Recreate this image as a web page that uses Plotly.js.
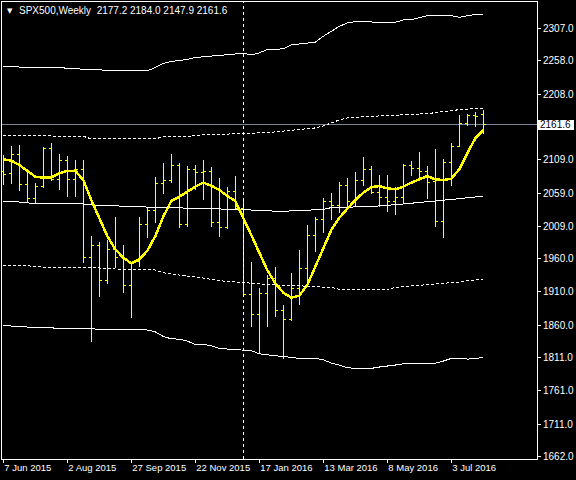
<!DOCTYPE html>
<html>
<head>
<meta charset="utf-8">
<script src="https://cdn.plot.ly/plotly-3.0.1.min.js"></script>
<style>
html,body{margin:0;padding:0;background:#000;}
#chart{width:576px;height:480px;}
#chart svg path{shape-rendering:crispEdges;}
</style>
</head>
<body>
<div id="chart"></div>
<script>
// ---- data (weekly bars starting 7 Jun 2015) ----
const symbolName = 'SPX500,Weekly';
const firstWeek = '2015-06-07';
const openP  = [2092,2088,2117.3,2071.1,2051,2068.5,2126.3,2079.6,2108.7,2079.6,2094.7,1962.2,1980,1928,1974,1962,1920.5,1955.6,2011.9,2033.4,2073.6,2077.5,2099.7,2012,2095,2090,2092,2014.4,2007.4,2062,2036,1906,1876.8,1908,1930,1881.8,1868,1916,1945,1995.8,2019.4,2046,2040,2071,2046,2078,2094,2060,2052,2046,2053,2100,2096,2092,2077,2016,2104.7,2129.8,2164,2176,2177.2];
const highP  = [2116.2,2130.3,2131.3,2088.7,2073.6,2127.8,2133.9,2117.7,2114.7,2108.7,2108.7,1994.3,1986,1988,2022.4,1980.7,1953.2,2022.4,2036,2083.6,2103.7,2117.7,2104.7,2099,2101.2,2108.7,2098.6,2081,2068.5,2084.6,2049.5,1955.6,1915.5,1935.6,1948,1890.4,1938.1,1973.2,2010.9,2023.4,2051,2058.6,2076,2081,2091,2113.7,2099,2086,2086,2068,2103,2107.7,2121.2,2099,2125,2109.8,2133.9,2176.5,2178,2181.4,2184.0];
const lowP   = [2071.1,2072.6,2062.5,2044.5,2044.5,2067,2077.5,2063.5,2053.5,2053.5,1953.2,1834,1902,1922,1945.6,1908,1870.4,1948,1990.8,2014.4,2057.5,2073.6,2006,2008,2063.5,2048.5,2008.3,1993.3,2004.4,2033.4,1905,1857.7,1818.6,1857.7,1872.8,1808.6,1866,1890.4,1923,1970.7,1998.4,2018.4,2028.5,2036,2038.5,2070,2058,2038.4,2030,2025.7,2043,2084.6,2080,2049.5,2008.3,1990.8,2070,2128.7,2159.5,2158.8,2147.9];
const closeP = [2087.6,2117.3,2071.1,2051,2068.5,2126.3,2079.6,2108.7,2079.6,2094.7,1962.2,1980,1928,1974,1962,1920.5,1953,2011.9,2033.4,2073.6,2077.5,2099.7,2012,2095,2090,2092,2014.4,2007.4,2062,2036,1906,1876.8,1908,1930,1881.8,1868,1916,1945,1995.8,2019.4,2046,2040,2071,2046,2078,2094,2060,2052,2046,2053,2100,2096,2092,2075,2016,2104.7,2128.7,2163,2176,2174,2161.6];

const maLine = [2109.8,2107.7,2101.2,2092.6,2083.6,2082,2082.5,2088.7,2092.2,2092.6,2078.6,2048.5,2022.4,1994.3,1974.3,1961.6,1953.2,1959,1972,1994,2023.4,2047,2053.5,2061,2068.5,2074.6,2070,2063.5,2054.5,2047,2022,1995.8,1969.2,1943,1923,1909,1901.4,1904.4,1920.5,1948,1977.3,2003.3,2021.8,2036,2048.5,2059.5,2067.6,2069.6,2066,2064.6,2068.5,2074.6,2079.6,2084.6,2079.6,2078.6,2080.6,2094.7,2118.8,2141.4,2153.9];

const midBand = [2045.5,2045.5,2045.5,2044,2044,2044,2044,2043.5,2043,2042.5,2042.5,2041,2040.5,2040,2039.5,2039,2038.4,2038,2037,2037,2037,2037,2036.5,2035.5,2035.5,2035.5,2035,2035,2034.5,2033.5,2033.4,2033.4,2033.4,2033.4,2031,2031,2032.4,2032.4,2032.4,2034.5,2034.5,2037,2037,2037,2038.4,2038.4,2038.4,2039.5,2040,2042,2042.5,2043.5,2045,2046,2047.5,2048.5,2049.5,2050.5,2052,2053,2054];

const upperInner = [2145.5,2145.5,2145.5,2145.5,2145.5,2145.5,2145.5,2144.4,2144.4,2144.4,2144.4,2140.5,2140.5,2140.5,2140.5,2140.5,2140.5,2140.5,2140.5,2140.5,2143.8,2143.8,2143.8,2143.8,2146,2146.4,2147,2147.5,2148,2148.2,2148.5,2148.9,2149,2150,2151,2152,2153,2154,2155,2157,2160,2165,2169,2172,2173.5,2174,2174.5,2175,2175,2175.5,2176.5,2177,2178,2178.5,2180,2182,2183,2184.5,2185.5,2186,2187];

const lowerInner = [1950,1949.6,1949.6,1949.6,1948,1948,1947,1946.6,1946.6,1946.6,1946.6,1946.6,1946.6,1946,1944.6,1944.6,1944.6,1944,1944,1943,1939,1937,1935,1934,1933,1930.6,1929,1927,1926,1925,1924.5,1924,1923,1921,1920.5,1920.5,1920.5,1920,1918,1918,1918,1917,1914,1913,1913,1913,1913,1913.5,1914,1917,1918,1918.5,1919,1920.5,1921,1922,1924,1925,1927,1928.5,1929.5];

const upperOuter = [2249,2249,2249,2249,2249,2249,2249,2248,2246.8,2246.8,2245,2244.7,2244.7,2243.2,2243.2,2243,2242.7,2242.7,2243,2248,2254,2257,2258.5,2260,2263,2264,2265,2266,2267,2268,2269.4,2267,2270,2275,2275.4,2276,2282,2283,2285,2286,2295,2303,2310,2315,2317,2317,2317,2316,2315.5,2316,2319.5,2320,2323,2326,2326,2326,2326,2323.5,2326,2328,2328];

const lowerOuter = [1858.8,1858.8,1857.3,1857.3,1856,1857,1856,1855,1854.3,1854.3,1854.3,1855,1853.5,1853.5,1853,1852.8,1852.8,1852.8,1852.8,1850,1843,1839.5,1839,1836,1831,1831,1829,1825,1824,1823.5,1823,1821.6,1817,1815,1814,1813,1811,1810,1810,1810,1808,1803,1800,1796,1795,1795,1795,1797,1798,1800,1802,1802.6,1802.6,1802.6,1802.6,1806,1810,1810,1809,1809.5,1811.7];

const xTickLabels = ['7 Jun 2015','2 Aug 2015','27 Sep 2015','22 Nov 2015','17 Jan 2016','13 Mar 2016','8 May 2016','3 Jul 2016'];
const yTickValues = [2307,2258,2208,2109,2059,2009,1960,1910,1860,1811,1761,1711,1662];

// ---- derived ----
const idx = openP.map((_, i) => i);
const start = new Date(firstWeek + 'T00:00:00Z');
const dates = idx.map(i => new Date(start.getTime() + i * 7 * 86400000));
const sepIndex = dates.findIndex(d => d.getUTCFullYear() === 2016);
const barsPerLabel = 8;
const xTickVals = xTickLabels.map((_, k) => k * barsPerLabel);
const n = openP.length - 1;
const lastClose = closeP[n];
const headerText = symbolName + '  ' + [openP[n], highP[n], lowP[n], closeP[n]].map(v => v.toFixed(1)).join(' ');

const YEL = '#ffff00';
const WH = '#ffffff';
const FONT = 'Liberation Sans, Arial, sans-serif';

const traces = [
  {type:'ohlc', x:idx, open:openP, high:highP, low:lowP, close:closeP,
   increasing:{line:{color:YEL, width:1}}, decreasing:{line:{color:YEL, width:1}},
   tickwidth:0.3, hoverinfo:'skip', showlegend:false},
  {type:'scatter', mode:'lines', x:idx, y:upperOuter, line:{color:WH, width:1}, hoverinfo:'skip'},
  {type:'scatter', mode:'lines', x:idx, y:upperInner, line:{color:WH, width:1, dash:'3px,2px'}, hoverinfo:'skip'},
  {type:'scatter', mode:'lines', x:idx, y:midBand, line:{color:WH, width:1}, hoverinfo:'skip'},
  {type:'scatter', mode:'lines', x:idx, y:lowerInner, line:{color:WH, width:1, dash:'3px,2px'}, hoverinfo:'skip'},
  {type:'scatter', mode:'lines', x:idx, y:lowerOuter, line:{color:WH, width:1}, hoverinfo:'skip'},
  {type:'scatter', mode:'lines', x:idx, y:maLine, line:{color:YEL, width:2.5}, hoverinfo:'skip'}
];

const boxHalf = 7.0;
const layout = {
  width:576, height:480,
  paper_bgcolor:'#000000', plot_bgcolor:'#000000',
  margin:{l:2, r:39, t:2, b:21, pad:0},
  showlegend:false, hovermode:false,
  font:{family:FONT, size:10, color:WH},
  xaxis:{
    range:[-0.1625, 66.7125], autorange:false, fixedrange:true,
    rangeslider:{visible:false},
    showgrid:false, zeroline:false,
    showline:true, mirror:true, linecolor:WH, linewidth:1,
    ticks:'outside', ticklen:3, tickcolor:WH, tickwidth:1,
    tickmode:'array', tickvals:xTickVals, ticktext:xTickLabels,
    ticklabelposition:'outside right', tickangle:0,
    tickfont:{family:FONT, size:9.5, color:WH}, automargin:false
  },
  yaxis:{
    range:[1658.54, 2346.6], autorange:false, fixedrange:true,
    side:'right', showgrid:false, zeroline:false,
    showline:true, mirror:true, linecolor:WH, linewidth:1,
    ticks:'outside', ticklen:3, tickcolor:WH, tickwidth:1,
    tickmode:'array', tickvals:yTickValues, ticktext:yTickValues.map(v => v.toFixed(1)),
    tickfont:{family:FONT, size:10, color:WH}, automargin:false
  },
  shapes:[
    {type:'line', xref:'paper', yref:'y', x0:0, x1:1, y0:lastClose, y1:lastClose,
     line:{color:'#778899', width:1}, layer:'below'},
    {type:'line', xref:'x', yref:'paper', x0:sepIndex, x1:sepIndex, y0:0, y1:1,
     line:{color:WH, width:1, dash:'3px,3px'}, layer:'above'},
    {type:'rect', xref:'paper', yref:'y', x0:1.0, x1:1.0 + 36.5/535,
     y0:lastClose - boxHalf, y1:lastClose + boxHalf,
     fillcolor:WH, line:{width:0}, layer:'above'}
  ],
  annotations:[
    {xref:'paper', yref:'y', x:1.0, y:lastClose, xanchor:'left', yanchor:'middle', xshift:1,
     text:lastClose.toFixed(1), showarrow:false, font:{family:FONT, size:10, color:'#000000'}},
    {xref:'paper', yref:'paper', x:0, y:1, xanchor:'left', yanchor:'middle', xshift:3, yshift:-8.5,
     text:'▼', showarrow:false, font:{family:'DejaVu Sans', size:7, color:WH}},
    {xref:'paper', yref:'paper', x:0, y:1, xanchor:'left', yanchor:'middle', xshift:15, yshift:-8.5,
     text:headerText.replace(/ /g, '&nbsp;'), showarrow:false,
     font:{family:FONT, size:10, color:WH}}
  ]
};

Plotly.newPlot('chart', traces, layout, {staticPlot:true, displayModeBar:false});
</script>
</body>
</html>
